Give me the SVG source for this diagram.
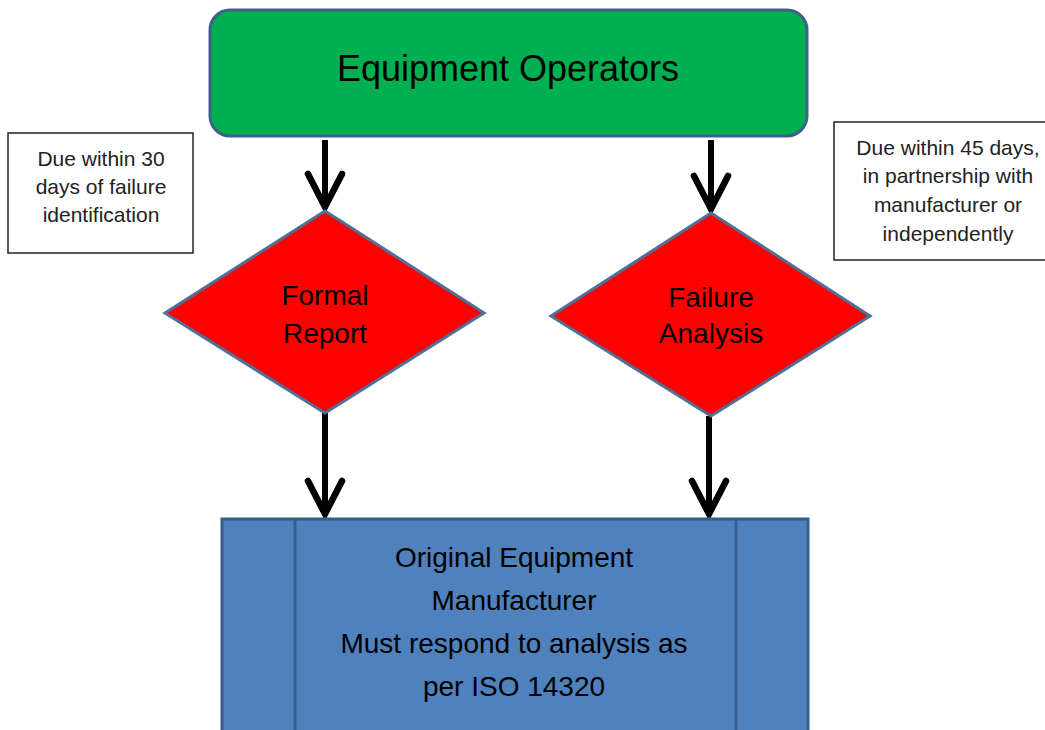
<svg xmlns="http://www.w3.org/2000/svg" width="1045" height="730" viewBox="0 0 1045 730">
  <style>
    .lbl { font-family: "Liberation Sans", Arial, sans-serif; fill: #000; text-anchor: middle; }
    .note-box { fill: #fff; stroke: #222; stroke-width: 1.5; }
    .note { font-size: 21px; fill: #222; }
    .diamond { fill: #ff0000; stroke: #4f6f96; stroke-width: 3; stroke-linejoin: miter; }
    .shaft { stroke: #000; stroke-width: 6; fill: none; }
    .head { stroke: #000; stroke-width: 6.5; fill: none; stroke-linecap: round; stroke-linejoin: miter; }
  </style>
  <rect width="1045" height="730" fill="#fff"/>

  <!-- connectors -->
  <g id="connectors">
    <g id="operators-to-report">
      <line class="shaft" x1="325" y1="140" x2="325" y2="206"/>
      <polyline class="head" points="308,174 325,207 342,174"/>
    </g>
    <g id="operators-to-analysis">
      <line class="shaft" x1="711" y1="140" x2="711" y2="208"/>
      <polyline class="head" points="694,176 711,209 728,176"/>
    </g>
    <g id="report-to-oem">
      <line class="shaft" x1="325" y1="413" x2="325" y2="513"/>
      <polyline class="head" points="308,481 325,514 342,481"/>
    </g>
    <g id="analysis-to-oem">
      <line class="shaft" x1="709" y1="416" x2="709" y2="513"/>
      <polyline class="head" points="692,481 709,514 726,481"/>
    </g>
  </g>

  <g id="equipment-operators">
    <rect x="210" y="10" width="597" height="126" rx="20" ry="20" fill="#00b050" stroke="#3f5f8c" stroke-width="3"/>
    <text class="lbl" x="508" y="81" font-size="36">Equipment Operators</text>
  </g>

  <g id="note-30-days">
    <rect class="note-box" x="8" y="133" width="185" height="120"/>
    <text class="lbl note" x="101" y="166">Due within 30</text>
    <text class="lbl note" x="101" y="194">days of failure</text>
    <text class="lbl note" x="101" y="222">identification</text>
  </g>

  <g id="note-45-days">
    <rect class="note-box" x="834" y="122" width="215" height="138"/>
    <text class="lbl note" x="948" y="155">Due within 45 days,</text>
    <text class="lbl note" x="948" y="183">in partnership with</text>
    <text class="lbl note" x="948" y="212">manufacturer or</text>
    <text class="lbl note" x="948" y="241">independently</text>
  </g>

  <g id="formal-report">
    <polygon class="diamond" points="325,211 484,313 325,413 165,313"/>
    <text class="lbl" x="325" y="305" font-size="28">Formal</text>
    <text class="lbl" x="325" y="343" font-size="28">Report</text>
  </g>

  <g id="failure-analysis">
    <polygon class="diamond" points="711,213 870,316 711,416 551,316"/>
    <text class="lbl" x="711" y="307" font-size="28">Failure</text>
    <text class="lbl" x="711" y="343" font-size="28">Analysis</text>
  </g>

  <g id="oem">
    <rect x="222" y="519" width="586" height="220" fill="#4f81bd" stroke="#385d8a" stroke-width="3"/>
    <line x1="295" y1="519" x2="295" y2="730" stroke="#385d8a" stroke-width="3"/>
    <line x1="736" y1="519" x2="736" y2="730" stroke="#385d8a" stroke-width="3"/>
    <text class="lbl" x="514" y="567" font-size="28">Original Equipment</text>
    <text class="lbl" x="514" y="610" font-size="28">Manufacturer</text>
    <text class="lbl" x="514" y="653" font-size="28">Must respond to analysis as</text>
    <text class="lbl" x="514" y="696" font-size="28">per ISO 14320</text>
  </g>
</svg>
